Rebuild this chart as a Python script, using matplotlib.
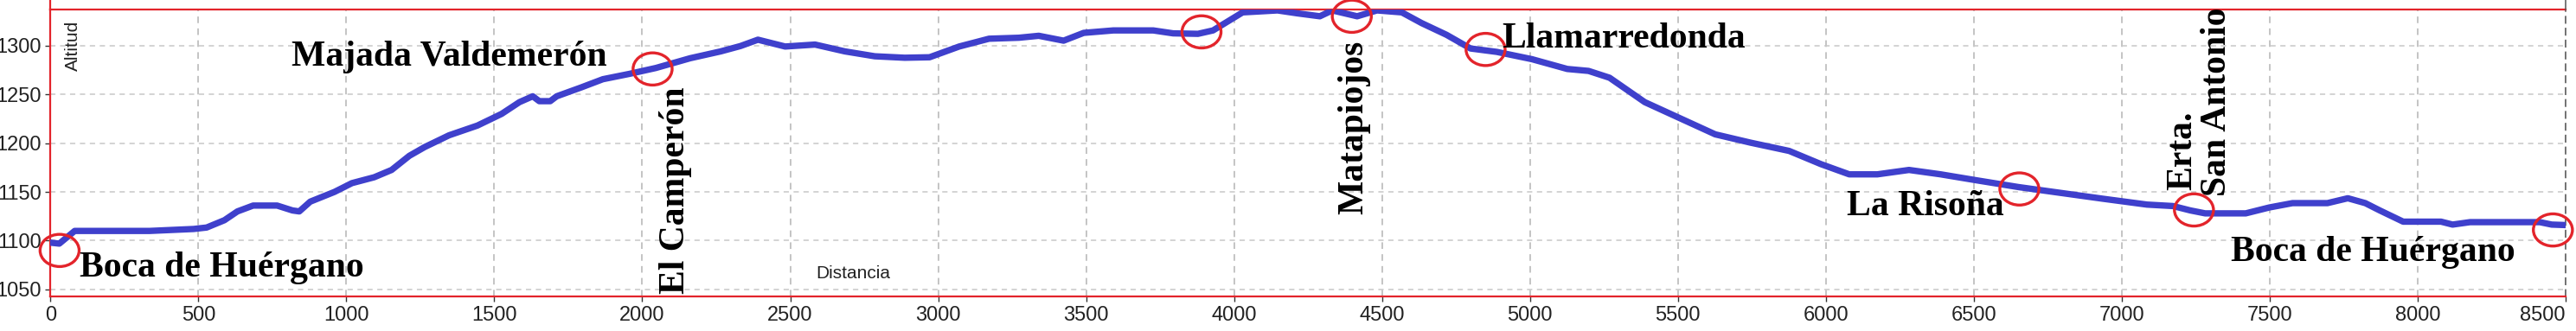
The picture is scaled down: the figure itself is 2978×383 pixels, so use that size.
import matplotlib
matplotlib.use("Agg")
import matplotlib.pyplot as plt
from matplotlib import font_manager
from matplotlib.patches import Ellipse
from matplotlib.lines import Line2D

# elevation profile (distance m, altitude m)
distancia = [0, 30, 82, 335, 484, 528, 588, 632, 685, 766, 818, 841, 878, 960,
             1019, 1094, 1153, 1213, 1265, 1347, 1443, 1525, 1585, 1630, 1652,
             1689, 1711, 1793, 1867, 1957, 2046, 2162, 2265, 2332, 2391, 2483,
             2584, 2685, 2786, 2887, 2971, 3071, 3172, 3273, 3340, 3424, 3492,
             3592, 3727, 3794, 3878, 3929, 4029, 4147, 4214, 4290, 4332, 4416,
             4483, 4567, 4634, 4718, 4799, 4888, 5007, 5126, 5198, 5269, 5388,
             5507, 5626, 5745, 5876, 5983, 6079, 6174, 6281, 6388, 6507, 6650,
             6793, 6936, 7085, 7173, 7232, 7282, 7419, 7498, 7577, 7695, 7764,
             7823, 7872, 7951, 8079, 8118, 8177, 8413, 8453, 8500]
altitud = [1098, 1097, 1110, 1110, 1112, 1113.5, 1121, 1130, 1136, 1136, 1131,
           1130, 1140, 1150, 1159, 1165, 1172.5, 1187, 1196, 1208, 1218, 1230,
           1242, 1248, 1243, 1243, 1248, 1257, 1265.5, 1271, 1277, 1287, 1294,
           1299.5, 1306, 1299, 1301, 1294, 1289, 1287.5, 1288, 1299, 1307, 1308,
           1310, 1305, 1313, 1315.5, 1315.5, 1312.5, 1312, 1315.5, 1334, 1336,
           1333, 1330, 1336, 1330, 1336, 1334, 1323, 1311, 1297, 1293.5, 1286,
           1276, 1274, 1267, 1242, 1225.5, 1209, 1200.5, 1192, 1178.5, 1168,
           1168, 1172.5, 1168, 1162, 1155, 1149, 1143, 1137, 1135.5, 1131, 1128,
           1128, 1134, 1138.5, 1138.5, 1143.5, 1138.5, 1131, 1119.5, 1119.5,
           1116.5, 1119, 1119, 1116.5, 1116]

# circled waypoints
puntos_x = [31, 2035, 3890, 4398, 4850, 6654, 7244, 8457]
puntos_y = [1090, 1276, 1314, 1330, 1296, 1153, 1131.5, 1111]

# horizontal labels: text, x, baseline altitude
nombres = ["Boca de Huérgano", "Majada Valdemerón", "Llamarredonda",
           "La Risoña", "Boca de Huérgano"]
nombres_x = [99, 816, 4905, 6071, 7370]
nombres_y = [1063, 1279, 1298, 1126, 1079]

# vertical labels: text, baseline x, start altitude
verticales = ["El Camperón", "Matapiojos", "Erta.", "San Antonio"]
verticales_x = [2142, 4433, 7234, 7351]
verticales_y = [1045.5, 1127, 1152, 1146]

xticks = list(range(0, 8501, 500))
yticks = [1050, 1100, 1150, 1200, 1250, 1300]

names = {f.name for f in font_manager.fontManager.ttflist}
narrow = "Liberation Sans Narrow" if "Liberation Sans Narrow" in names else "Liberation Sans"
serif = "Liberation Serif"

RED = "#e3242b"
W, H = 2978, 383

fig = plt.figure(figsize=(W / 100, H / 100), dpi=100)
left, right, top, bottom = 58.3, 2966, 10.7, 343.3
ax = fig.add_axes([left / W, 1 - bottom / H, (right - left) / W, (bottom - top) / H])

ax.plot(distancia, altitud, color="#3f40cc", lw=5.3, solid_capstyle="round",
        solid_joinstyle="round", zorder=3)

for px, py in zip(puntos_x, puntos_y):
    ax.add_patch(Ellipse((px, py), 132, 33, fill=False, edgecolor=RED, lw=2.4,
                         zorder=5, clip_on=False))

for t, px, py in zip(nombres, nombres_x, nombres_y):
    ax.text(px, py, t, fontsize=30, fontweight="bold", family=serif,
            ha="left", va="baseline", zorder=6)

for t, px, py in zip(verticales, verticales_x, verticales_y):
    ax.text(px, py, t, fontsize=30, fontweight="bold", family=serif, rotation=90,
            rotation_mode="anchor", ha="left", va="baseline", zorder=6,
            clip_on=False)

ax.text(75, 1300, "Altitud", rotation=90, fontsize=15, family=narrow,
        ha="center", va="center", color="#222222")
ax.text(2712, 1061.5, "Distancia", fontsize=15, family=narrow,
        ha="center", va="baseline", color="#222222")

ax.set_xlim(0, 8500)
ax.set_ylim(1042.6, 1337.2)
ax.set_xticks(xticks)
ax.set_yticks(yticks)
ax.tick_params(labelsize=17, colors="#333333", length=4, width=1)
for lab in ax.get_xticklabels() + ax.get_yticklabels():
    lab.set_family(narrow)
    lab.set_color("#222222")
ax.get_xticklabels()[-1].set_horizontalalignment("right")

ax.xaxis.grid(True, color="#b4b4b4", linestyle=(0, (5, 4)), lw=1.1)
ax.yaxis.grid(True, color="#c8c8c8", linestyle=(0, (4, 3.5)), lw=1.1)
ax.set_axisbelow(True)

for s in ["left", "top", "bottom"]:
    ax.spines[s].set_color(RED)
    ax.spines[s].set_linewidth(1.6)
ax.spines["right"].set_color("#555555")
ax.spines["right"].set_linestyle((0, (5, 4)))
ax.spines["right"].set_linewidth(1.1)

fig.add_artist(Line2D([left / W, left / W], [1 - top / H, 1], color=RED, lw=1.6,
                      transform=fig.transFigure))
fig.add_artist(Line2D([right / W, right / W], [1 - top / H, 1], color="#555555",
                      lw=1.1, transform=fig.transFigure))

fig.savefig("out.png", dpi=100, facecolor="white")
